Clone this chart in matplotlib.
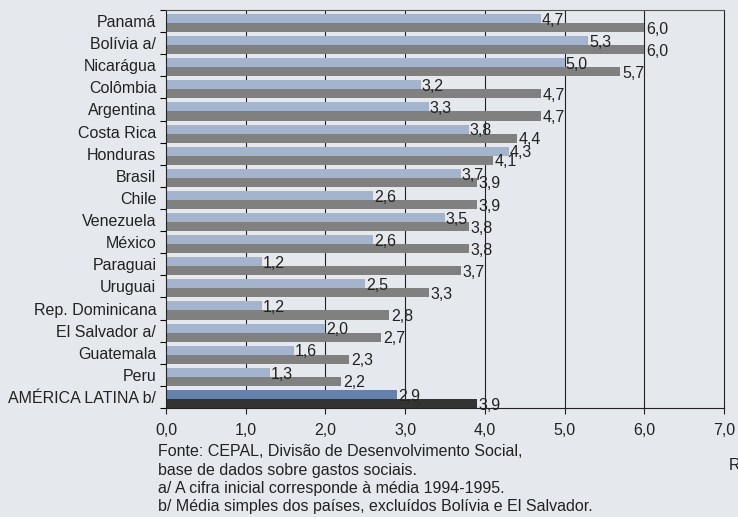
import matplotlib
matplotlib.use("Agg")
import matplotlib.pyplot as plt
import numpy as np

plt.rcParams['font.family'] = ['Liberation Sans', 'DejaVu Sans']

countries = ["Panamá", "Bolívia a/", "Nicarágua", "Colômbia", "Argentina",
             "Costa Rica", "Honduras", "Brasil", "Chile", "Venezuela",
             "México", "Paraguai", "Uruguai", "Rep. Dominicana",
             "El Salvador a/", "Guatemala", "Peru", "AMÉRICA LATINA b/"]
inicial = [4.7, 5.3, 5.0, 3.2, 3.3, 3.8, 4.3, 3.7, 2.6, 3.5,
           2.6, 1.2, 2.5, 1.2, 2.0, 1.6, 1.3, 2.9]
final = [6.0, 6.0, 5.7, 4.7, 4.7, 4.4, 4.1, 3.9, 3.9, 3.8,
         3.8, 3.7, 3.3, 2.8, 2.7, 2.3, 2.2, 3.9]
xticks = [0, 1, 2, 3, 4, 5, 6, 7]
xticklabels = ["0,0", "1,0", "2,0", "3,0", "4,0", "5,0", "6,0", "7,0"]
notes = ["Fonte: CEPAL, Divisão de Desenvolvimento Social,",
         "base de dados sobre gastos sociais.",
         "a/ A cifra inicial corresponde à média 1994-1995.",
         "b/ Média simples dos países, excluídos Bolívia e El Salvador."]

BG = "#e5e9ee"
LIGHT = "#a3b4cc"
DARK = "#808080"
LIGHT_AL = "#6782aa"
DARK_AL = "#333333"

fig = plt.figure(figsize=(7.38, 5.17), dpi=100, facecolor=BG)
ax = fig.add_axes([166 / 738, 1 - 408 / 517, 558 / 738, 398 / 517])
ax.set_facecolor(BG)

n = len(countries)
rows = np.arange(n)
bh = 0.41
light_colors = [LIGHT] * (n - 1) + [LIGHT_AL]
dark_colors = [DARK] * (n - 1) + [DARK_AL]
ax.barh(rows + 0.18 + bh / 2, inicial, height=bh, color=light_colors, zorder=2)
ax.barh(rows + 0.18 + bh + bh / 2, final, height=bh, color=dark_colors, zorder=2)

def fmt(v):
    return f"{v:.1f}".replace(".", ",")

for i in range(n):
    ax.text(inicial[i] + 0.01, i + 0.18 + bh / 2 + 0.08, fmt(inicial[i]),
            va="center", ha="left", fontsize=11.5, color="#222222", zorder=3)
    ax.text(final[i] + 0.02, i + 0.18 + bh + bh / 2 + 0.07, fmt(final[i]),
            va="center", ha="left", fontsize=11.5, color="#222222", zorder=3)

ax.set_xlim(0, 7)
ax.set_ylim(n, 0)

# vertical reference lines at each unit
for x in xticks[1:-1]:
    ax.axvline(x, color="#222222", lw=0.8, zorder=1)

ax.set_xticks(xticks)
ax.set_xticklabels(xticklabels, fontsize=11.5)
ax.tick_params(axis="x", direction="out", length=4, width=0.8, pad=7,
               colors="#222222")

ax.set_yticks(np.arange(n + 1))
ax.set_yticklabels([])
ax.set_yticks(rows + 0.5, minor=True)
ax.set_yticklabels(countries, minor=True, fontsize=11.5)
ax.tick_params(axis="y", which="major", direction="out", length=4, width=0.8)
ax.tick_params(axis="y", which="minor", length=0, pad=7, colors="#222222")

for s in ax.spines.values():
    s.set_color("#222222")
    s.set_linewidth(0.8)
ax.spines["top"].set_color("#555555")

for k, line in enumerate(notes):
    fig.text(158 / 738, 1 - (452 + 18.3 * k) / 517, line, fontsize=11.5,
             va="center", ha="left", color="#222222")
fig.text(729 / 738, 1 - 466 / 517, "R", fontsize=11.5, va="center",
         ha="left", color="#222222")

fig.savefig("out.png", dpi=100, facecolor=BG)
